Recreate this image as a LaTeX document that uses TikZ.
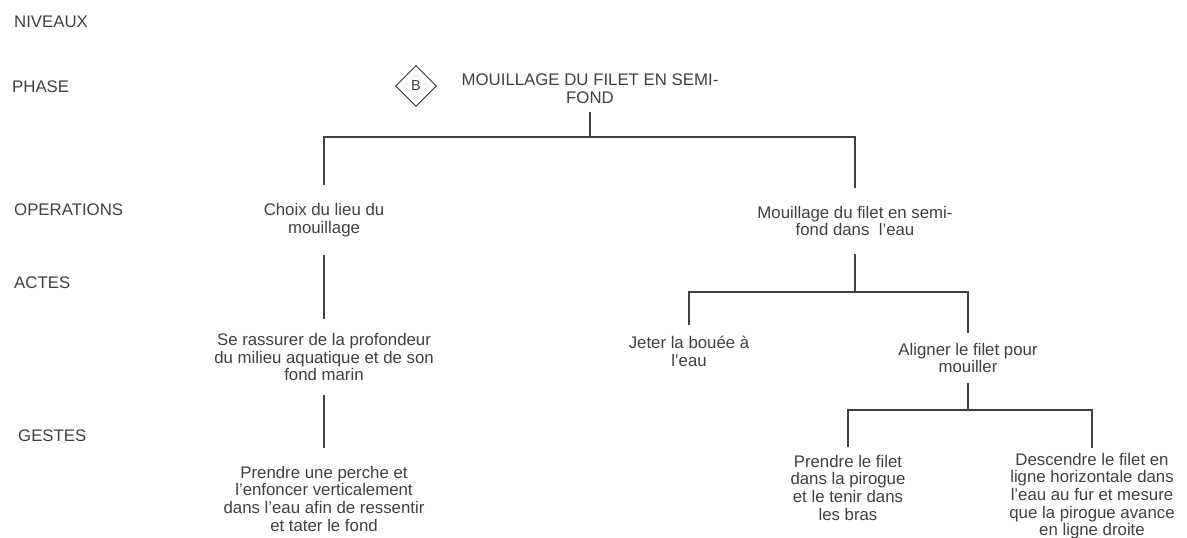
\documentclass[tikz,border=0pt]{standalone}
\usepackage{fontspec}
\setmainfont{Liberation Sans}
\usepackage{tikz}
\usetikzlibrary{shapes.geometric}

\begin{document}
\begin{tikzpicture}[x=1pt, y=-1pt,
    every node/.style={text=black!75, font=\fontsize{16.8}{17.6}\selectfont},
    niveau/.style={anchor=west, inner sep=0pt},
    tache/.style={align=center, inner xsep=2pt},
    losange/.style={diamond, draw=black!80, line width=0.9pt, minimum width=41pt, minimum height=41pt, inner sep=0pt, font=\fontsize{14.5}{15}\selectfont},
    lien/.style={draw=black!75, line width=1.3pt}]
  \useasboundingbox (0,0) rectangle (1187,538);
  %% *** Niveaux ***
  \node [niveau] (nNiv) at (14,22)  {NIVEAUX};
  \node [niveau] (nPha) at (12,87)  {PHASE};
  \node [niveau] (nOpe) at (14,210) {OPERATIONS};
  \node [niveau] (nAct) at (14,283) {ACTES};
  \node [niveau] (nGes) at (18,436) {GESTES};
  %% *** Phase ***
  \node [losange] (lettre) at (416,86) {B};
  \node [tache, inner ysep=8pt] (titre) at (590,89) {MOUILLAGE DU FILET EN SEMI-\\FOND};
  %% *** Operations ***
  \node [tache, inner ysep=18pt] (choix) at (324,220) {Choix du lieu du\\mouillage};
  \node [tache, inner ysep=18pt] (mouill) at (855,221) {Mouillage du filet en semi-\\fond dans~ l'eau};
  %% *** Actes ***
  \node [tache, inner ysep=14pt] (rassur) at (324,357) {Se rassurer de la profondeur\\du milieu aquatique et de son\\fond marin};
  \node [tache, inner ysep=11pt, anchor=north] (jeter) at (689,325) {Jeter la bouée à\\l'eau};
  \node [tache, inner ysep=10pt] (aligner) at (968,358) {Aligner le filet pour\\mouiller};
  %% *** Gestes ***
  \node [tache, inner ysep=18pt, anchor=north] (perche) at (324,448) {Prendre une perche et\\l'enfoncer verticalement\\dans l'eau afin de ressentir\\et tater le fond};
  \node [tache, inner ysep=8pt, anchor=north] (prendre) at (848,447) {Prendre le filet\\dans la pirogue\\et le tenir dans\\les bras};
  \node [tache, inner ysep=5pt, anchor=north] (descend) at (1092,448) {Descendre le filet en\\ligne horizontale dans\\l'eau au fur et mesure\\que la pirogue avance\\en ligne droite};
  %% *** Liens ***
  \coordinate (barA) at (590,137);
  \coordinate (barB) at (855,292);
  \coordinate (barC) at (968,410);
  \draw [lien] (titre.south) -- (barA) -| (choix.north);
  \draw [lien] (barA) -| (mouill.north);
  \draw [lien] (choix.south) -- (rassur.north);
  \draw [lien] (rassur.south) -- (perche.north);
  \draw [lien] (mouill.south) -- (barB) -| (jeter.north);
  \draw [lien] (barB) -| (aligner.north);
  \draw [lien] (aligner.south) -- (barC) -| (prendre.north);
  \draw [lien] (barC) -| (descend.north);
\end{tikzpicture}
\end{document}
